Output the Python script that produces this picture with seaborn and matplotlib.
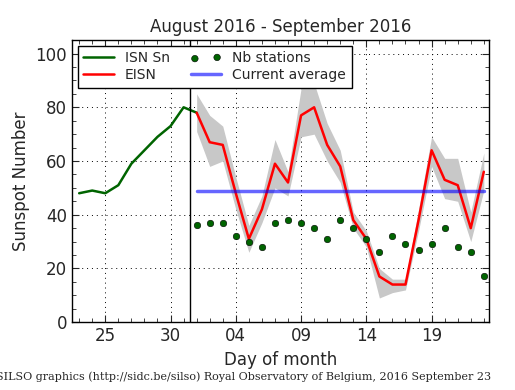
import pandas as pd
import numpy as np
import matplotlib
matplotlib.use("Agg")
import matplotlib.pyplot as plt
import matplotlib.dates as mdates
import seaborn as sns

# ------------------ data ------------------ #
isn_days = ['2016-08-23', '2016-08-24', '2016-08-25', '2016-08-26', '2016-08-27',
            '2016-08-28', '2016-08-29', '2016-08-30', '2016-08-31', '2016-09-01']
isn_values = [48, 49, 48, 51, 59, 64, 69, 73, 80, 78]

eisn_days = ['2016-09-%02d' % d for d in range(1, 24)]
eisn_values = [78, 67, 66, 48, 31, 42, 59, 52, 77, 80, 66, 58, 38, 31, 17, 14, 14,
               38, 64, 53, 51, 35, 56]
eisn_upper = [85, 77, 73, 54, 36, 47, 68, 56, 87, 89, 74, 64, 41, 34, 20, 16, 16,
              42, 69, 61, 61, 41, 63]
eisn_lower = [71, 58, 60, 42, 26, 37, 50, 47, 69, 70, 60, 52, 35, 28, 9, 11, 12,
              34, 58, 46, 45, 30, 49]
nb_stations = [36, 37, 37, 32, 30, 28, 37, 38, 37, 35, 31, 38, 35, 31, 26, 32, 29,
               27, 29, 35, 28, 26, 17]
current_average = 49

isn = pd.DataFrame({'date': pd.to_datetime(isn_days), 'value': isn_values})
eisn = pd.DataFrame({'date': pd.to_datetime(eisn_days), 'value': eisn_values,
                     'upper': eisn_upper, 'lower': eisn_lower, 'nb': nb_stations})

# ------------------ style ------------------ #
sns.set_style("ticks")
plt.rcParams['font.family'] = ['DejaVu Sans']
plt.rcParams['xtick.direction'] = 'in'
plt.rcParams['ytick.direction'] = 'in'

fig = plt.figure(figsize=(5.15, 3.9), dpi=100)
ax = fig.add_axes([0.14, 0.174, 0.81, 0.723])

ax.fill_between(eisn['date'], eisn['lower'], eisn['upper'], color='#c8c8c8', lw=0)
sns.lineplot(data=isn, x='date', y='value', color='#006400', lw=1.8, ax=ax, label='ISN Sn')
sns.lineplot(data=eisn, x='date', y='value', color='red', lw=1.8, ax=ax, label='EISN')
sns.scatterplot(data=eisn, x='date', y='nb', color='#006400', s=22, edgecolor='black',
                linewidth=0.4, ax=ax, label='Nb stations', zorder=4)
ax.plot([eisn['date'].iloc[0], eisn['date'].iloc[-1]], [current_average] * 2,
        color='blue', alpha=0.6, lw=2.5, label='Current average')
ax.axvline(pd.Timestamp('2016-08-31 12:00'), color='black', lw=1)

ax.set_xlim(pd.Timestamp('2016-08-22 11:00'), pd.Timestamp('2016-09-23 10:00'))
ax.set_ylim(0, 105)
ax.xaxis.set_major_locator(mdates.DayLocator(bymonthday=[4, 9, 14, 19, 25, 30]))
ax.xaxis.set_minor_locator(mdates.DayLocator())
ax.xaxis.set_major_formatter(mdates.DateFormatter('%d'))
ax.set_yticks(range(0, 101, 20))
ax.set_yticks(range(0, 105, 5), minor=True)
ax.tick_params(which='both', top=True, right=True, labelsize=12)
ax.tick_params(which='major', length=5)
ax.tick_params(which='minor', length=3)
ax.grid(True, which='major', color='black', linestyle=(0, (1, 4)), lw=0.7)
for s in ax.spines.values():
    s.set_linewidth(1)
    s.set_color('black')

ax.set_title('August 2016 - September 2016', fontsize=12)
ax.set_xlabel('Day of month', fontsize=12)
ax.set_ylabel('Sunspot Number', fontsize=12)

leg = ax.legend(loc='upper left', ncol=2, fontsize=10, frameon=True, fancybox=False,
                framealpha=1, edgecolor='black', borderaxespad=0.4, handlelength=2.2,
                columnspacing=1.5, scatterpoints=2, handletextpad=0.8,
                labelspacing=0.2)
leg.get_frame().set_linewidth(1)

fig.text(0.473, 0.025, 'SILSO graphics (http://sidc.be/silso) Royal Observatory of Belgium, '
         '2016 September 23', ha='center', fontsize=8.05, family='DejaVu Serif')

fig.savefig('out.png', dpi=100)
